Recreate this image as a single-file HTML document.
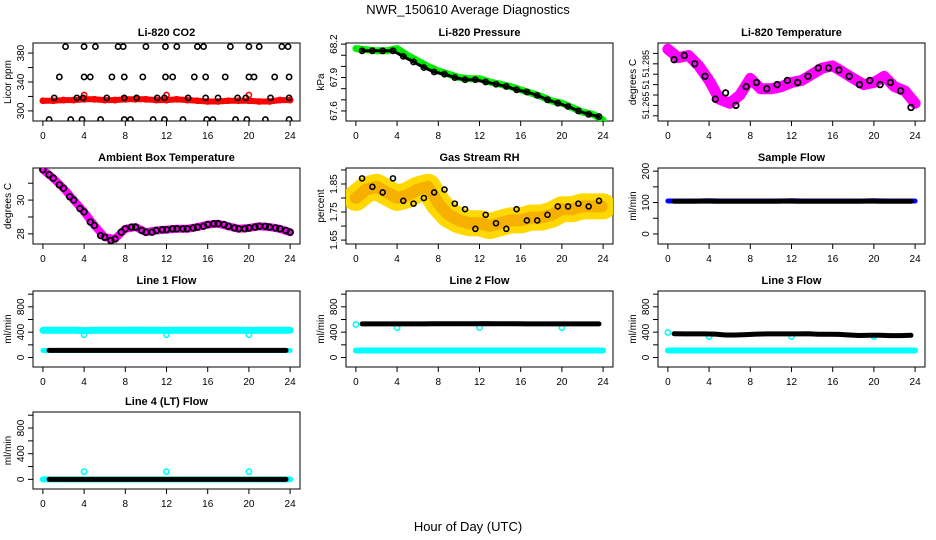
<!DOCTYPE html>
<html><head><meta charset="utf-8">
<style>
html,body{margin:0;padding:0;background:#fff;}
svg{display:block;font-family:"Liberation Sans",sans-serif;}
</style></head>
<body>
<svg id="c" width="936" height="540" viewBox="0 0 936 540" xmlns="http://www.w3.org/2000/svg">
<text x="468" y="14" text-anchor="middle" font-size="13">NWR_150610  Average Diagnostics</text>
<text x="468" y="531" text-anchor="middle" font-size="13">Hour of Day (UTC)</text>
</svg>
<script>
// ---- data ----
const hours = [0,1,2,3,4,5,6,7,8,9,10,11,12,13,14,15,16,17,18,19,20,21,22,23,24];
const halfHours = [0.6,1.6,2.6,3.6,4.6,5.6,6.6,7.6,8.6,9.6,10.6,11.6,12.6,13.6,14.6,15.6,16.6,17.6,18.6,19.6,20.6,21.6,22.6,23.6];
const xTicks = [0,4,8,12,16,20,24];

const co2Red = [314,314,315,315,316,316,315,315,316,316,316,315,315,316,315,314,313,313,314,314,314,313,313,315,315];
const co2OutHours = [4,12,20];
const co2OutVals = [322,322,322];
const co2BlackHours = [2.2,4,5.1,7.3,7.8,10,11.9,13,15,15.6,18.2,20,21,23.2,23.8,1.6,4,4.6,6.7,7.9,9.7,11.9,12.6,14.7,15.8,17.7,20,20.5,22.5,23.9,1.1,3.3,3.9,6.2,7.9,9.1,11.1,11.8,14.1,15.8,17,18.9,19.7,22.1,23.9,0.6,2.7,3.8,5.6,7.9,8.5,10.7,11.8,13.6,15.9,16.5,18.7,19.8,21.6,23.9];
const co2BlackVals = [389,389,389,389,389,389,389,389,389,389,389,389,389,389,389,347,347,347,347,347,347,347,347,347,347,347,347,347,347,347,318,318,318,318,318,318,318,318,318,318,318,318,318,318,318,288,288,288,288,288,288,288,288,288,288,288,288,288,288,288];

const presGreen = [68.16,68.15,68.14,68.14,68.16,68.10,68.05,68.00,67.96,67.93,67.90,67.89,67.89,67.86,67.84,67.82,67.79,67.76,67.73,67.69,67.67,67.63,67.59,67.57,67.52];
const presBlack = [68.14,68.14,68.14,68.14,68.09,68.04,67.99,67.95,67.93,67.90,67.88,67.88,67.86,67.84,67.82,67.79,67.77,67.74,67.70,67.67,67.64,67.60,67.57,67.55];

const tempMag = [51.292,51.288,51.289,51.284,51.277,51.268,51.266,51.270,51.278,51.273,51.273,51.274,51.276,51.277,51.280,51.283,51.284,51.281,51.278,51.275,51.276,51.279,51.274,51.272,51.266];
const tempBlack = [51.287,51.289,51.285,51.279,51.268,51.271,51.265,51.274,51.276,51.273,51.275,51.277,51.276,51.279,51.283,51.283,51.282,51.279,51.275,51.277,51.275,51.276,51.272,51.264];

const ambMag = [31.8,31.3,30.7,30.0,29.3,28.5,27.8,27.7,28.3,28.4,28.1,28.2,28.25,28.3,28.3,28.4,28.55,28.6,28.45,28.3,28.35,28.45,28.4,28.3,28.1];
const ambBlack = [31.5,30.9,30.2,29.5,28.7,27.9,27.6,28.1,28.4,28.2,28.1,28.25,28.3,28.3,28.35,28.45,28.6,28.55,28.35,28.3,28.4,28.45,28.35,28.2];

const rhBand = [1.80,1.83,1.84,1.82,1.80,1.81,1.83,1.84,1.78,1.74,1.72,1.71,1.71,1.70,1.71,1.72,1.72,1.73,1.73,1.74,1.76,1.76,1.77,1.77,1.77];
const rhBlack = [1.87,1.84,1.82,1.87,1.79,1.78,1.80,1.82,1.83,1.78,1.76,1.69,1.74,1.71,1.69,1.76,1.72,1.72,1.74,1.77,1.77,1.78,1.77,1.79];

const sampleBlue = [105,105,105,105,106,105,105,105,105,105,105,105,106,105,105,105,105,105,105,105,106,105,105,105,105];
const sampleBlack = [104,104,104,105,104,104,104,104,104,104,104,105,104,104,104,104,104,104,104,105,104,104,104,104];

const line1CyanHi = [430,430,430,430,425,430,430,430,430,432,430,430,428,430,430,430,430,430,430,430,428,430,430,430,430];
const line1CyanLo = [110,110,110,110,110,110,110,110,110,110,110,110,110,110,110,110,110,110,110,110,110,110,110,110,110];
const line1Black = [112,112,112,112,112,112,112,112,112,112,112,112,112,112,112,112,112,112,112,112,112,112,112,112];
const line2Cyan = [110,110,110,110,110,110,110,110,110,110,110,110,110,110,110,110,110,110,110,110,110,110,110,110,110];
const line2Black = [530,530,530,530,530,530,530,532,532,532,532,532,535,532,532,532,530,530,530,530,530,530,530,530];
const line3Cyan = [110,110,110,110,110,110,110,110,110,110,110,110,110,110,110,110,110,110,110,110,110,110,110,110,110];
const line3Black = [375,372,372,372,370,355,355,362,370,372,372,372,372,375,368,368,365,355,348,352,352,345,345,350];
const line4Cyan = [0,0,0,0,0,0,0,0,0,0,0,0,0,0,0,0,0,0,0,0,0,0,0,0,0];
const line4Black = [0,0,0,0,0,0,0,0,0,0,0,0,0,0,0,0,0,0,0,0,0,0,0,0];
const flowOutHours = [4,12,20];
const line1OutVals = [360,360,360];
const line2OutVals = [470,470,470];
const line3OutVals = [330,330,330];
const line4OutVals = [120,120,120];
const flowStartHours = [0];
const line2StartVals = [520];
const line3StartVals = [395];

// ---- layout ----
const svg = document.getElementById('c');
const NS = 'http://www.w3.org/2000/svg';
const colX = [33, 346, 658];
const rowY = [[43,121],[168,244],[291,367],[412,489]];
const W = 267;

function el(tag, attrs, parent){
  const e = document.createElementNS(NS, tag);
  for (const k in attrs) e.setAttribute(k, attrs[k]);
  (parent||svg).appendChild(e);
  return e;
}

function panel(col, row, name, title, ylab, ymin, ymax, ticks, labels, lfs){
  const L = colX[col], T = rowY[row][0], B = rowY[row][1];
  const g = el('g', {});
  
  
  const xs = h => L + W * (h + 0.96) / 25.92;
  const ys = v => B - (B - T) * (v - ymin) / (ymax - ymin);
  const box = el('rect', {x:L, y:T, width:W, height:B-T, fill:'none', stroke:'#000', 'stroke-width':1}, g);
  
  
  const t = el('text', {x:L+W/2, y:T-7, 'text-anchor':'middle', 'font-size':11, 'font-weight':'bold'}, g);
  t.textContent = title;
  
  
  const xa = el('g', {}, g);
  
  
  el('line', {x1:xs(0), x2:xs(24), y1:B, y2:B, stroke:'#000'}, xa);
  xTicks.forEach(h => {
    el('line', {x1:xs(h), x2:xs(h), y1:B, y2:B+5, stroke:'#000'}, xa);
    const tx = el('text', {x:xs(h), y:B+18, 'text-anchor':'middle', 'font-size':10}, xa);
    tx.textContent = h;
  });
  const ya = el('g', {}, g);
  
  
  el('line', {x1:L, x2:L, y1:ys(ticks[0]), y2:ys(ticks[ticks.length-1]), stroke:'#000'}, ya);
  ticks.forEach((v,i) => {
    el('line', {x1:L-5, x2:L, y1:ys(v), y2:ys(v), stroke:'#000'}, ya);
    if (labels[i]) {
      const ty = el('text', {x:0, y:0, 'text-anchor':'middle', 'font-size':lfs||10, transform:`translate(${L-9},${ys(v)}) rotate(-90)`}, ya);
      ty.textContent = labels[i];
    }
  });
  const yl = el('text', {x:0, y:0, 'text-anchor':'middle', 'font-size':10, transform:`translate(${L-22},${(T+B)/2}) rotate(-90)`}, g);
  yl.textContent = ylab;
  
  
  const clipId = 'clip-' + name;
  const cp = el('clipPath', {id:clipId}, g);
  el('rect', {x:L, y:T, width:W, height:B-T}, cp);
  const plot = el('g', {'clip-path':`url(#${clipId})`}, g);
  return {xs, ys, plot};
}

function band(p, name, xsArr, vals, color, width, extra){
  const pts = vals.map((v,i) => p.xs(xsArr[i]).toFixed(1) + ',' + p.ys(v).toFixed(1)).join(' ');
  const a = {points:pts, fill:'none', stroke:color, 'stroke-width':width, 'stroke-linejoin':'round', 'stroke-linecap':'round'};
  if (extra) Object.assign(a, extra);
  const pl = el('polyline', a, p.plot);
  
  
}
function pts(p, name, xsArr, vals, color, r, sw){
  const gg = el('g', {}, p.plot);
  
  
  vals.forEach((v,i) => {
    el('circle', {cx:p.xs(xsArr[i]), cy:p.ys(v), r:r||2.6, fill:'none', stroke:color, 'stroke-width':sw||1.6}, gg);
  });
}

let p = panel(0,0,'co2','Li-820 CO2','Licor ppm',286,394,[300,320,340,360,380],['300','','340','','380']);
band(p,'co2-red-band',hours,co2Red,'#ff0000',6);
pts(p,'co2-red-points',hours,co2Red,'#ff0000');
pts(p,'co2-red-outliers',co2OutHours,co2OutVals,'#ff0000');
pts(p,'co2-black-points',co2BlackHours,co2BlackVals,'#000');

p = panel(1,0,'pressure','Li-820 Pressure','kPa',67.51,68.21,[67.6,67.7,67.8,67.9,68.0,68.1,68.2],['67.6','','','67.9','','','68.2']);
band(p,'pressure-green-band',hours,presGreen,'#00e000',7);
pts(p,'pressure-green-points',hours,presGreen,'#00ff00');
band(p,'pressure-black-line',halfHours,presBlack,'#000',3);
pts(p,'pressure-black-points',halfHours,presBlack,'#000');

p = panel(2,0,'licor-temp','Li-820 Temperature','degrees C',51.2575,51.295,[51.26,51.265,51.27,51.275,51.28,51.285,51.29],['','51.265','','51','','51.285',''],9);
band(p,'licor-temp-magenta-band',hours,tempMag,'#ff00ff',11);
pts(p,'licor-temp-magenta-points',hours,tempMag,'#ff00ff',3);
pts(p,'licor-temp-black-points',halfHours,tempBlack,'#000',2.8,1.8);

p = panel(0,1,'ambient-temp','Ambient Box Temperature','degrees C',27.4,31.9,[28,29,30,31],['28','','30','']);
band(p,'ambient-magenta-band',hours,ambMag,'#ff00ff',8);
pts(p,'ambient-black-points',hours,ambMag,'#000',2.8,1.8);
pts(p,'ambient-black-points-2',halfHours,ambBlack,'#000',2.8,1.8);

p = panel(1,1,'gas-rh','Gas Stream RH','percent',1.636,1.907,[1.65,1.70,1.75,1.80,1.85,1.90],['1.65','','1.75','','1.85','']);
band(p,'rh-yellow-band',hours,rhBand,'#ffd800',26);
band(p,'rh-orange-band',hours,rhBand,'#f5b000',12,{'stroke-dasharray':'2 2'});
pts(p,'rh-black-points',halfHours,rhBlack,'#000',2.5,1.6);

p = panel(2,1,'sample-flow','Sample Flow','ml/min',-32,210,[0,50,100,150,200],['0','','100','','200']);
band(p,'sample-blue-band',hours,sampleBlue,'#0000ff',5);
band(p,'sample-black-line',halfHours,sampleBlack,'#000',5);

const fT = [0,200,400,600,800,1000], fL = ['0','','400','','800',''];
p = panel(0,2,'line1-flow','Line 1 Flow','ml/min',-150,1050,fT,fL);
band(p,'line1-cyan-high',hours,line1CyanHi,'#00ffff',7);
band(p,'line1-cyan-low',hours,line1CyanLo,'#00ffff',5);
pts(p,'line1-cyan-outliers',flowOutHours,line1OutVals,'#00ffff');
band(p,'line1-black-line',halfHours,line1Black,'#000',5);

p = panel(1,2,'line2-flow','Line 2 Flow','ml/min',-150,1050,fT,fL);
band(p,'line2-cyan-line',hours,line2Cyan,'#00ffff',6);
pts(p,'line2-cyan-start',flowStartHours,line2StartVals,'#00ffff');
pts(p,'line2-cyan-outliers',flowOutHours,line2OutVals,'#00ffff');
band(p,'line2-black-line',halfHours,line2Black,'#000',5);

p = panel(2,2,'line3-flow','Line 3 Flow','ml/min',-150,1050,fT,fL);
band(p,'line3-cyan-line',hours,line3Cyan,'#00ffff',6);
pts(p,'line3-cyan-start',flowStartHours,line3StartVals,'#00ffff');
pts(p,'line3-cyan-outliers',flowOutHours,line3OutVals,'#00ffff');
band(p,'line3-black-line',halfHours,line3Black,'#000',5);

p = panel(0,3,'line4-flow','Line 4 (LT) Flow','ml/min',-150,1050,fT,fL);
band(p,'line4-cyan-line',hours,line4Cyan,'#00ffff',6);
pts(p,'line4-cyan-outliers',flowOutHours,line4OutVals,'#00ffff');
band(p,'line4-black-line',halfHours,line4Black,'#000',5);
</script>
</body></html>
